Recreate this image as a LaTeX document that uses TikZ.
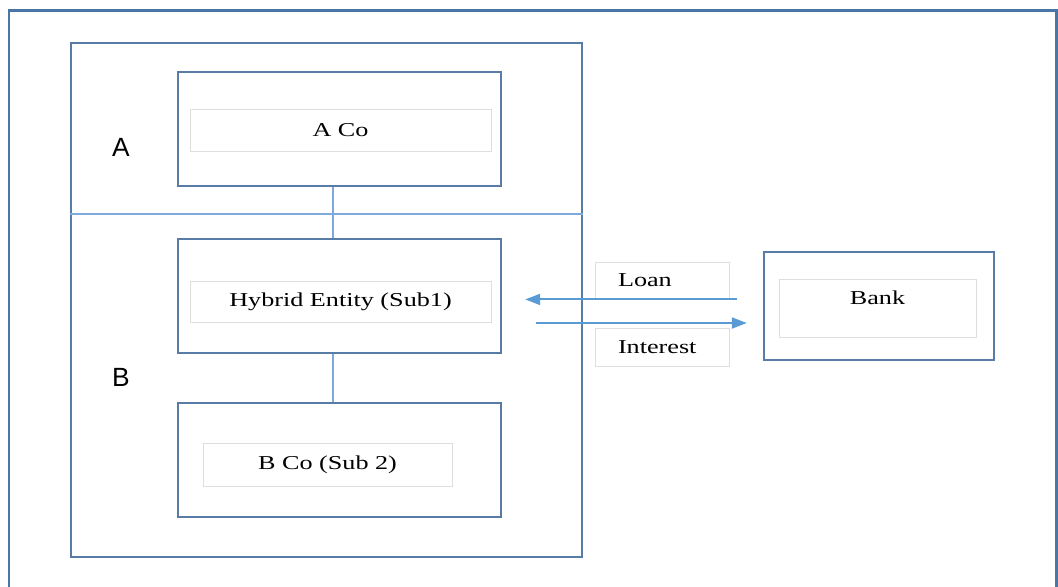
\documentclass[tikz,border=0pt]{standalone}
\usepackage{fontspec}
\setmainfont{Liberation Serif}
\setsansfont{Liberation Sans}
\usetikzlibrary{arrows.meta}
\definecolor{frameblue}{RGB}{74,118,166}
\definecolor{boxblue}{RGB}{88,124,165}
\definecolor{linkblue}{RGB}{125,170,218}
\definecolor{flowblue}{RGB}{91,155,213}
\definecolor{tagline}{RGB}{222,222,222}
\newcommand\widetext[1]{\scalebox{1.33}[1]{#1}}
\tikzset{
  outerbox/.style={draw=boxblue,line width=1.4pt,minimum width=6.46cm,minimum height=2.28cm,inner sep=0pt},
  namebox/.style={draw=tagline,line width=0.5pt,minimum height=0.84cm,inner sep=0pt,font=\fontsize{11.2}{13}\selectfont},
  tagbox/.style={namebox,minimum height=0.74cm,text width=1.76cm,inner xsep=0.46cm,align=left},
  link/.style={draw=linkblue,line width=0.6pt},
  flow/.style={draw=flowblue,line width=1.1pt,-{Triangle[length=0.3cm,width=0.22cm]}},
  grouplabel/.style={font=\sffamily\fontsize{15}{18}\selectfont}
}

\begin{document}
\begin{tikzpicture}[x=0.02cm,y=-0.02cm,line join=miter]
  \clip (0,0) rectangle (1058,586);
  \draw[frameblue,line width=1.7pt] (9,10) rectangle (1056,620);
  \node[draw=boxblue,line width=1.4pt,minimum width=10.22cm,minimum height=10.28cm,inner sep=0pt] (group) at (326.5,300) {};
  \draw[linkblue,line width=0.8pt] (group.west |- 0,214) -- (group.east |- 0,214);
  \node[grouplabel] (labA) at (121,147) {A};
  \node[grouplabel] (labB) at (121,377) {B};
  \foreach \n/\y in {aco/129,hyb/296,bco/460}
    \node[outerbox] (\n) at (339.5,\y) {};
  \node[namebox,minimum width=6.02cm] (aconame) at (340.5,130) {\widetext{A Co}};
  \node[namebox,minimum width=6.02cm,minimum height=0.82cm] (hybname) at (340.5,301.5) {\widetext{Hybrid Entity (Sub1)}};
  \node[namebox,minimum width=4.98cm,minimum height=0.86cm] (bconame) at (327.5,464.5) {\widetext{B Co (Sub 2)}};
  \draw[link] ([xshift=-0.13cm]aco.south) -- ([xshift=-0.13cm]hyb.north);
  \draw[link] ([xshift=-0.13cm]hyb.south) -- ([xshift=-0.13cm]bco.north);
  \node[outerbox,minimum width=4.6cm,minimum height=2.16cm] (bank) at (879,306) {};
  \node[namebox,minimum width=3.94cm,minimum height=1.16cm,text depth=0.4cm] (bankname) at (877.5,308) {\widetext{Bank}};
  \node[tagbox] (loan) at (662,280.5) {\widetext{Loan}};
  \node[tagbox,minimum height=0.76cm] (interest) at (662,347) {\widetext{Interest}};
  \coordinate (lowrow) at (0,323);
  \draw[flow] ([xshift=-0.52cm]bank.west |- loan.south) -- ([xshift=0.46cm]hyb.east |- loan.south);
  \draw[flow] ([xshift=0.68cm]hyb.east |- lowrow) -- ([xshift=-0.32cm]bank.west |- lowrow);
\end{tikzpicture}
\end{document}
